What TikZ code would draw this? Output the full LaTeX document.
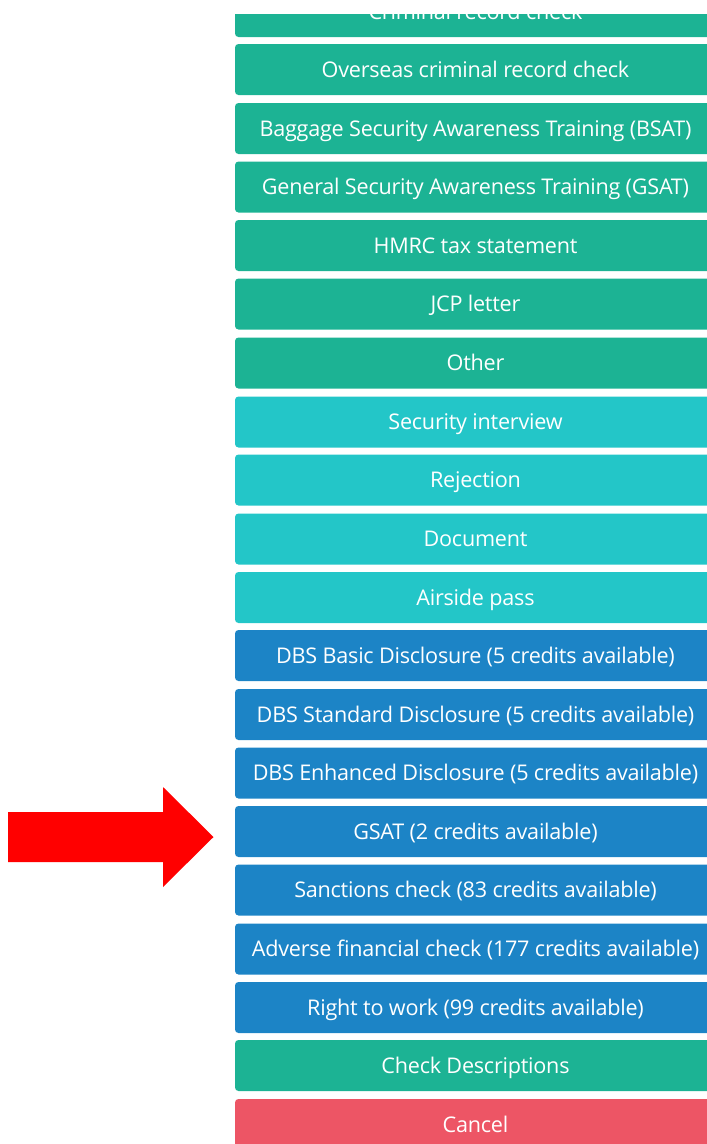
\documentclass[tikz,border=0pt]{standalone}
\usepackage{fontspec}
\setmainfont[LetterSpace=-1.1]{Open Sans}
\definecolor{btngreen}{HTML}{1CB394}
\definecolor{btncyan}{HTML}{23C6C8}
\definecolor{btnblue}{HTML}{1C84C6}
\definecolor{btnred}{HTML}{ED5565}
\tikzset{
  btn/.style={rectangle,rounded corners=3.5pt,inner sep=0pt,minimum width=481pt,minimum height=51pt,
    text=white,font=\fontsize{21.6}{26}\selectfont,text height=20pt,text depth=5pt},
  greenbtn/.style={btn,fill=btngreen},
  cyanbtn/.style={btn,fill=btncyan},
  bluebtn/.style={btn,fill=btnblue},
  redbtn/.style={btn,fill=btnred}
}
\begin{document}
\begin{tikzpicture}
    [x=1pt,y=-1pt]
    \useasboundingbox (0, 0) rectangle (707, 1144);
    \begin{scope}
    \clip (0, 14) rectangle (707, 1144);
    \node (criminal) at (475.5, 11.5) [greenbtn] {Criminal record check};
    \node (overseas) at (475.5, 69.5) [greenbtn] {Overseas criminal record check};
    \node (bsat) at (475.5, 128.5) [greenbtn] {Baggage Security Awareness Training (BSAT)};
    \node (gsat) at (475.5, 187) [greenbtn] {General Security Awareness Training (GSAT)};
    \node (hmrc) at (475.5, 245.5) [greenbtn] {HMRC tax statement};
    \node (jcp) at (475.5, 304) [greenbtn] {JCP letter};
    \node (other) at (475.5, 363) [greenbtn] {Other};
    \node (interview) at (475.5, 422) [cyanbtn] {Security interview};
    \node (rejection) at (475.5, 480) [cyanbtn] {Rejection};
    \node (document) at (475.5, 539) [cyanbtn] {Document};
    \node (airside) at (475.5, 597.5) [cyanbtn] {Airside pass};
    \node (basic) at (475.5, 655.5) [bluebtn] {DBS Basic Disclosure (5 credits available)};
    \node (standard) at (475.5, 714.5) [bluebtn] {DBS Standard Disclosure (5 credits available)};
    \node (enhanced) at (475.5, 773) [bluebtn] {DBS Enhanced Disclosure (5 credits available)};
    \node (gsatcredits) at (475.5, 831.5) [bluebtn] {GSAT (2 credits available)};
    \node (sanctions) at (475.5, 890) [bluebtn] {Sanctions check (83 credits available)};
    \node (adverse) at (475.5, 949) [bluebtn] {Adverse financial check (177 credits available)};
    \node (rightwork) at (475.5, 1007.5) [bluebtn] {Right to work (99 credits available)};
    \node (descriptions) at (475.5, 1065.5) [greenbtn] {Check Descriptions};
    \node (cancel) at (475.5, 1124.5) [redbtn] {Cancel};
    \end{scope}
    \fill [red] (8, 812) -- (163, 812) -- (163, 787) -- (213.5, 837) -- (163, 887) -- (163, 862) -- (8, 862) -- cycle;
  \end{tikzpicture}
\end{document}
